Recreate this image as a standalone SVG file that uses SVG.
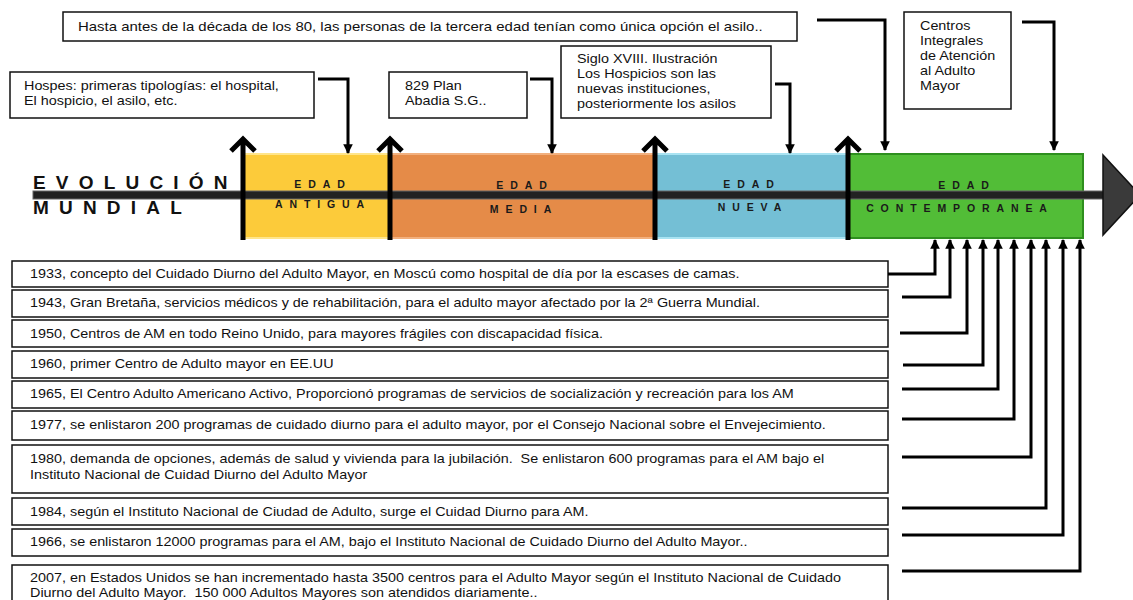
<svg xmlns="http://www.w3.org/2000/svg" width="1133" height="600" viewBox="0 0 1133 600">
<style>
.box{fill:#fff;stroke:#111;stroke-width:1.5}
.t{font-family:"Liberation Sans",Arial,sans-serif;font-size:12.5px;fill:#111}
.conn{fill:none;stroke:#000;stroke-width:3}
.big{fill:none;stroke:#000;stroke-width:5}
.title{font-family:"Liberation Sans",Arial,sans-serif;font-weight:bold;font-size:19px;fill:#111;letter-spacing:10.2px}
.lab{font-family:"Liberation Sans",Arial,sans-serif;font-weight:bold;font-size:10.5px;fill:#1a1a1a;letter-spacing:6.9px;text-anchor:middle}
</style>
<defs>
<marker id="ah" viewBox="0 0 10 10" refX="9" refY="5" markerWidth="3.2" markerHeight="3.2" orient="auto" markerUnits="strokeWidth">
<path d="M0,0 L10,5 L0,10 z" fill="#000"/>
</marker>
</defs>
<rect width="1133" height="600" fill="#fff"/>

<g id="bands">
<rect x="243" y="154" width="147" height="84" fill="#FCCB3A" stroke="#FFE58A" stroke-width="2"/>
<rect x="390" y="154" width="265" height="84" fill="#E58B48" stroke="#F2B07E" stroke-width="2"/>
<rect x="655" y="154" width="193" height="84" fill="#74BFD5" stroke="#A9E3F2" stroke-width="2"/>
<rect x="848" y="154" width="235" height="84" fill="#52BD37" stroke="#2E8F1E" stroke-width="2"/>
</g>

<g id="axis">
<rect x="33" y="191" width="1074" height="8" fill="#222" stroke="#666" stroke-width="1"/>
<path d="M1103,155 L1140,195 L1103,235 z" fill="#3a3a3a" stroke="#111" stroke-width="1.5"/>
<text class="title" x="33" y="189">EVOLUCIÓN</text>
<text class="title" x="33" y="214">MUNDIAL</text>
</g>

<g id="band-labels">
<text class="lab" x="323" y="188">EDAD</text>
<text class="lab" x="323" y="208">ANTIGUA</text>
<text class="lab" x="525" y="189">EDAD</text>
<text class="lab" x="524" y="213">MEDIA</text>
<text class="lab" x="752" y="188">EDAD</text>
<text class="lab" x="753" y="211">NUEVA</text>
<text class="lab" x="967" y="189">EDAD</text>
<text class="lab" x="960" y="212">CONTEMPORANEA</text>
</g>

<g id="era-arrows">
<path class="big" d="M243,240 V140 M231,151 L243,139 L255,151"/>
<path class="big" d="M390,240 V140 M378,151 L390,139 L402,151"/>
<path class="big" d="M655,240 V140 M643,151 L655,139 L667,151"/>
<path class="big" d="M848,240 V140 M836,151 L848,139 L860,151"/>
</g>

<g id="n-hasta">
<rect class="box" x="63" y="12" width="734" height="29"/>
<text class="t" transform="matrix(1.195,0,0,1,78,0)" x="0" y="31">Hasta antes de la década de los 80, las personas de la tercera edad tenían como única opción el asilo..</text>
</g>
<g id="n-hospes">
<rect class="box" x="10" y="72" width="304" height="46"/>
<text class="t" transform="matrix(1.15,0,0,1,24,0)" x="0" y="90">Hospes: primeras tipologías: el hospital,</text>
<text class="t" transform="matrix(1.15,0,0,1,24,0)" x="0" y="105">El hospicio, el asilo, etc.</text>
</g>
<g id="n-plan">
<rect class="box" x="389" y="72" width="138" height="46"/>
<text class="t" transform="matrix(1.15,0,0,1,405,0)" x="0" y="90">829 Plan</text>
<text class="t" transform="matrix(1.15,0,0,1,405,0)" x="0" y="105">Abadia S.G..</text>
</g>
<g id="n-siglo">
<rect class="box" x="561" y="46" width="210" height="72"/>
<text class="t" transform="matrix(1.15,0,0,1,577,0)" x="0" y="63">Siglo XVIII. Ilustración</text>
<text class="t" transform="matrix(1.15,0,0,1,577,0)" x="0" y="78">Los Hospicios son las</text>
<text class="t" transform="matrix(1.15,0,0,1,577,0)" x="0" y="93">nuevas instituciones,</text>
<text class="t" transform="matrix(1.15,0,0,1,577,0)" x="0" y="108">posteriormente los asilos</text>
</g>
<g id="n-centros">
<rect class="box" x="904" y="12" width="107" height="97"/>
<text class="t" transform="matrix(1.15,0,0,1,920,0)" x="0" y="30">Centros</text>
<text class="t" transform="matrix(1.15,0,0,1,920,0)" x="0" y="45">Integrales</text>
<text class="t" transform="matrix(1.15,0,0,1,920,0)" x="0" y="60">de Atención</text>
<text class="t" transform="matrix(1.15,0,0,1,920,0)" x="0" y="75">al Adulto</text>
<text class="t" transform="matrix(1.15,0,0,1,920,0)" x="0" y="90">Mayor</text>
</g>

<g id="n-1933"><rect class="box" x="12" y="261" width="876" height="26"/><text class="t" transform="matrix(1.15,0,0,1,30,0)" x="0" y="278">1933, concepto del Cuidado Diurno del Adulto Mayor, en Moscú como hospital de día por la escases de camas.</text></g>
<g id="n-1943"><rect class="box" x="12" y="290" width="876" height="27"/><text class="t" transform="matrix(1.15,0,0,1,30,0)" x="0" y="307">1943, Gran Bretaña, servicios médicos y de rehabilitación, para el adulto mayor afectado por la 2ª Guerra Mundial.</text></g>
<g id="n-1950"><rect class="box" x="12" y="320" width="876" height="27"/><text class="t" transform="matrix(1.15,0,0,1,30,0)" x="0" y="338">1950, Centros de AM en todo Reino Unido, para mayores frágiles con discapacidad física.</text></g>
<g id="n-1960"><rect class="box" x="12" y="351" width="876" height="27"/><text class="t" transform="matrix(1.15,0,0,1,30,0)" x="0" y="368">1960, primer Centro de Adulto mayor en EE.UU</text></g>
<g id="n-1965"><rect class="box" x="12" y="381" width="876" height="27"/><text class="t" transform="matrix(1.15,0,0,1,30,0)" x="0" y="398">1965, El Centro Adulto Americano Activo, Proporcionó programas de servicios de socialización y recreación para los AM</text></g>
<g id="n-1977"><rect class="box" x="12" y="411" width="876" height="29"/><text class="t" transform="matrix(1.15,0,0,1,30,0)" x="0" y="429">1977, se enlistaron 200 programas de cuidado diurno para el adulto mayor, por el Consejo Nacional sobre el Envejecimiento.</text></g>
<g id="n-1980"><rect class="box" x="12" y="445" width="876" height="48"/><text class="t" transform="matrix(1.15,0,0,1,30,0)" x="0" y="463">1980, demanda de opciones, además de salud y vivienda para la jubilación.&#160; Se enlistaron 600 programas para el AM bajo el</text><text class="t" transform="matrix(1.15,0,0,1,30,0)" x="0" y="479">Instituto Nacional de Cuidad Diurno del Adulto Mayor</text></g>
<g id="n-1984"><rect class="box" x="12" y="498" width="876" height="27"/><text class="t" transform="matrix(1.15,0,0,1,30,0)" x="0" y="516">1984, según el Instituto Nacional de Ciudad de Adulto, surge el Cuidad Diurno para AM.</text></g>
<g id="n-1966"><rect class="box" x="12" y="529" width="876" height="27"/><text class="t" transform="matrix(1.15,0,0,1,30,0)" x="0" y="546">1966, se enlistaron 12000 programas para el AM, bajo el Instituto Nacional de Cuidado Diurno del Adulto Mayor..</text></g>
<g id="n-2007"><rect class="box" x="12" y="565" width="876" height="40"/><text class="t" transform="matrix(1.15,0,0,1,30,0)" x="0" y="582">2007, en Estados Unidos se han incrementado hasta 3500 centros para el Adulto Mayor según el Instituto Nacional de Cuidado</text><text class="t" transform="matrix(1.15,0,0,1,30,0)" x="0" y="597">Diurno del Adulto Mayor.&#160; 150 000 Adultos Mayores son atendidos diariamente..</text></g>

<g id="connectors">
<path class="conn" d="M318,79 H348 V153" marker-end="url(#ah)"/>
<path class="conn" d="M530,79 H552 V153" marker-end="url(#ah)"/>
<path class="conn" d="M775,84 H790 V153" marker-end="url(#ah)"/>
<path class="conn" d="M817,20 H885 V150" marker-end="url(#ah)"/>
<path class="conn" d="M1022,22 H1054 V150" marker-end="url(#ah)"/>

<path class="conn" d="M888,274 H935 V240" marker-end="url(#ah)"/>
<path class="conn" d="M902,297 H950 V240" marker-end="url(#ah)"/>
<path class="conn" d="M900,333 H967 V240" marker-end="url(#ah)"/>
<path class="conn" d="M903,365 H983 V240" marker-end="url(#ah)"/>
<path class="conn" d="M902,389 H998 V240" marker-end="url(#ah)"/>
<path class="conn" d="M902,419 H1014 V240" marker-end="url(#ah)"/>
<path class="conn" d="M902,457 H1031 V240" marker-end="url(#ah)"/>
<path class="conn" d="M902,508 H1046 V240" marker-end="url(#ah)"/>
<path class="conn" d="M902,535 H1063 V240" marker-end="url(#ah)"/>
<path class="conn" d="M902,571 H1080 V240" marker-end="url(#ah)"/>
</g>
</svg>
